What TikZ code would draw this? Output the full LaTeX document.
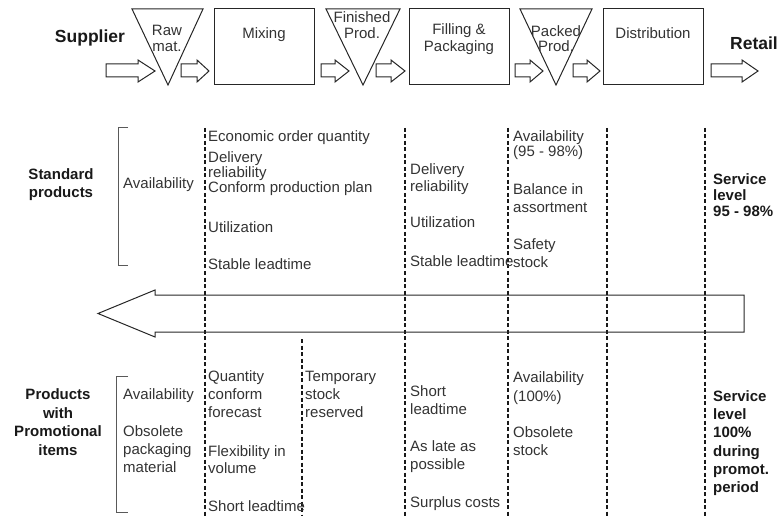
\documentclass[tikz,border=0pt]{standalone}
\usepackage{fontspec}
\setmainfont{Liberation Sans}
\begin{document}
\begin{tikzpicture}[x=1pt,y=-1pt,
    shp/.style={line width=1pt, black!85},
    brk/.style={line width=1pt, black!65},
    sep/.style={line width=1.3pt, black!90, dash pattern=on 4pt off 2.5pt},
    txt/.style={anchor=north west, inner sep=0pt, align=left, text=black!80, font=\fontsize{15}{18}\selectfont},
    tight/.style={txt, font=\fontsize{15}{15}\selectfont},
    hdr/.style={anchor=north, inner sep=0pt, align=center, text=black!90, font=\fontsize{15}{18}\selectfont\bfseries},
    side/.style={txt, text=black!90, font=\fontsize{15}{17}\selectfont\bfseries},
    stage/.style={anchor=north, inner sep=0pt, align=center, text=black!80, font=\fontsize{15}{16}\selectfont},
    ends/.style={inner sep=0pt, text=black!90, font=\fontsize{17.5}{20}\selectfont\bfseries}]
    \useasboundingbox (0,0) rectangle (781,521);

    % chain
    \node[ends] (sup) at (90,38) {Supplier};
    \node[ends] (ret) at (754,43) {Retail};
    \foreach \xa/\xb/\xc in {106/138/155, 181/197/209, 321/335/349, 376/391/405,
                             515/530/543, 573/587/600, 711/742/758}
        \draw[shp] (\xa,64) -- (\xb,64) -- (\xb,60) -- (\xc,71) -- (\xb,82) -- (\xb,77) -- (\xa,77) -- cycle;

    \draw[shp] (132,9) -- (203,9) -- (168,85) -- cycle;
    \draw[shp] (326,9) -- (400,9) -- (363,85) -- cycle;
    \draw[shp] (520,9) -- (592,9) -- (556,85) -- cycle;
    \draw[shp] (214,9) rectangle (314,85);
    \draw[shp] (409,9) rectangle (509,85);
    \draw[shp] (603,9) rectangle (703,85);

    \node[stage] (rawmat) at (167,24.5) {Raw\\mat.};
    \node[stage] (mixing) at (264,27.5) {Mixing};
    \node[stage] (finprod) at (362,11.5) {Finished\\Prod.};
    \node[stage, font=\fontsize{15}{17}\selectfont] (filling) at (459,23.5) {Filling \&\\Packaging};
    \node[stage, font=\fontsize{15}{15}\selectfont] (packprod) at (556,25.5) {Packed\\Prod.};
    \node[stage] (distr) at (653,27.5) {Distribution};

    % column separators
    \foreach \xs in {205,405,508,607,705}
        \draw[sep] (\xs,128) -- (\xs,516);
    \draw[sep] (302,339) -- (302,516);

    % brackets
    \draw[brk] (128,128) -- (118,128) -- (118,265) -- (128,265);
    \draw[brk] (128,376) -- (116,376) -- (116,512) -- (128,512);

    % information flow back
    \draw[shp] (744,295) -- (155,295) -- (155,290) -- (98,313.5) -- (155,337) -- (155,332) -- (744,332) -- cycle;

    % standard products
    \node[hdr] (std) at (61,168.5) {Standard\\products};
    \node[txt] (stdavail) at (123,177.5) {Availability};
    \node[txt] (stdeoq) at (208,130.5) {Economic order quantity};
    \node[tight] (stddel) at (208,151.5) {Delivery\\reliability\\Conform production plan};
    \node[txt] (stdutil) at (208,221.5) {Utilization};
    \node[txt] (stdlead) at (208,258.5) {Stable leadtime};
    \node[txt, font=\fontsize{15}{17}\selectfont] (stdfdel) at (410,163.5) {Delivery\\reliability};
    \node[txt] (stdfutil) at (410,216.5) {Utilization};
    \node[txt] (stdflead) at (410,255.5) {Stable leadtime};
    \node[tight] (stdpavail) at (513,130.5) {Availability\\(95 - 98\%)};
    \node[txt] (stdbal) at (513,183.5) {Balance in\\assortment};
    \node[txt] (stdsafe) at (513,238.5) {Safety\\stock};
    \node[side, font=\fontsize{15}{16}\selectfont\bfseries] (stdserv) at (713,173.5) {Service\\level\\95 - 98\%};

    % promotional items
    \node[hdr, font=\fontsize{15}{18.5}\selectfont\bfseries] (promo) at (58,388.5) {Products\\with\\Promotional\\items};
    \node[txt] (pravail) at (123,388.5) {Availability};
    \node[txt] (probs) at (123,425.5) {Obsolete\\packaging\\material};
    \node[txt] (prqty) at (208,370.5) {Quantity\\conform\\forecast};
    \node[txt, font=\fontsize{15}{17}\selectfont] (prflex) at (208,445.5) {Flexibility in\\volume};
    \node[txt] (prlead) at (208,500.5) {Short leadtime};
    \node[txt] (prtemp) at (305,370.5) {Temporary\\stock\\reserved};
    \node[txt] (prflead) at (410,385.5) {Short\\leadtime};
    \node[txt] (prlate) at (410,440.5) {As late as\\possible};
    \node[txt] (prsurp) at (410,496.5) {Surplus costs};
    \node[txt, font=\fontsize{15}{19}\selectfont] (prpavail) at (513,371.5) {Availability\\(100\%)};
    \node[txt] (prpobs) at (513,426.5) {Obsolete\\stock};
    \node[side, font=\fontsize{15}{18.2}\selectfont\bfseries] (prserv) at (713,390.5) {Service\\level\\100\%\\during\\promot.\\period};
\end{tikzpicture}
\end{document}
